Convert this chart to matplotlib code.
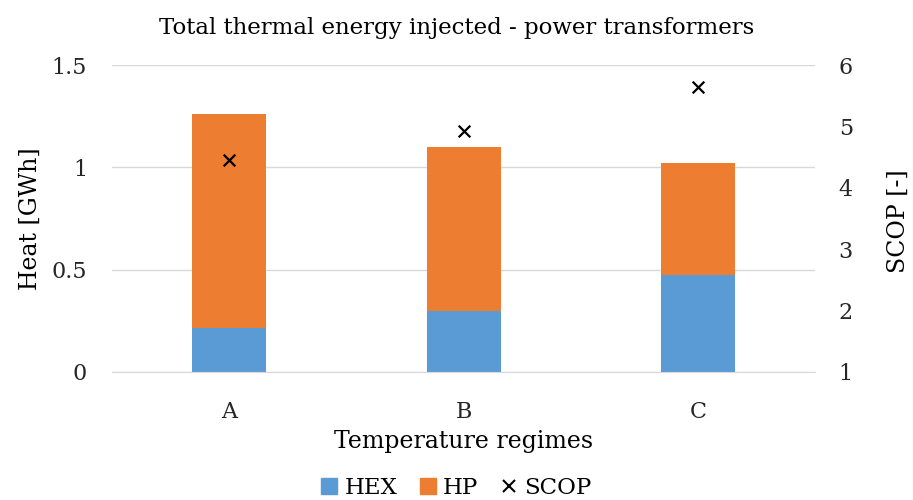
import matplotlib
matplotlib.use("Agg")
import matplotlib.pyplot as plt
from matplotlib.lines import Line2D
from matplotlib.patches import Patch

categories = ["A", "B", "C"]
hex_values = [0.215, 0.298, 0.474]
hp_values = [1.045, 0.801, 0.547]
scop_values = [4.45, 4.93, 5.64]
left_ticks = [0, 0.5, 1, 1.5]
left_tick_labels = ["0", "0.5", "1", "1.5"]
right_ticks = [1, 2, 3, 4, 5, 6]

plt.rcParams['font.family'] = ['DejaVu Serif']

fig = plt.figure(figsize=(9.13, 5.0), dpi=100)
ax = fig.add_axes([0.1227, 0.256, 0.770, 0.614])
ax2 = ax.twinx()

x = list(range(len(categories)))
c_hex = "#5B9BD5"
c_hp = "#ED7D31"
ax.bar(x, hex_values, width=0.316, color=c_hex, zorder=2)
ax.bar(x, hp_values, width=0.316, bottom=hex_values, color=c_hp, zorder=2)
ax2.scatter(x, scop_values, marker="x", color="black", s=70, linewidths=1.6, zorder=3)

ax.set_xlim(-0.5, 2.5)
ax.set_ylim(0, 1.5)
ax2.set_ylim(1, 6)
ax.set_yticks(left_ticks)
ax.set_yticklabels(left_tick_labels)
ax2.set_yticks(right_ticks)
ax.set_xticks(x)
ax.set_xticklabels(categories)
ax.yaxis.grid(True, color="#D9D9D9", linewidth=1.0, zorder=0)
ax.set_axisbelow(True)

for a in (ax, ax2):
    for s in a.spines.values():
        s.set_visible(False)
    a.tick_params(length=0, labelsize=16, colors="#262626")
ax.spines['bottom'].set_visible(True)
ax.spines['bottom'].set_color("#D9D9D9")
ax.tick_params(axis='y', pad=18)
ax2.tick_params(axis='y', pad=17)
ax.tick_params(axis='x', pad=21)

ax.set_ylabel("Heat [GWh]", fontsize=17)
ax.yaxis.set_label_coords(-0.0996, 0.5)
ax2.set_ylabel("SCOP [-]", fontsize=17)
ax2.yaxis.set_label_coords(1.1024, 0.49)
ax.set_xlabel("Temperature regimes", fontsize=17, labelpad=5)
fig.text(0.5, 0.944, "Total thermal energy injected - power transformers",
         ha="center", va="center", fontsize=16.5)

handles = [Patch(color=c_hex, label="HEX"), Patch(color=c_hp, label="HP"),
           Line2D([], [], marker="x", color="black", linestyle="none", markersize=9,
                  markeredgewidth=1.5, label="SCOP")]
fig.legend(handles=handles, loc="center", bbox_to_anchor=(0.5, 0.024), ncol=3,
           frameon=False, fontsize=16.5, handlelength=0.7, handleheight=0.7,
           handletextpad=0.3, columnspacing=1.0)

fig.savefig("out.png", dpi=100)
